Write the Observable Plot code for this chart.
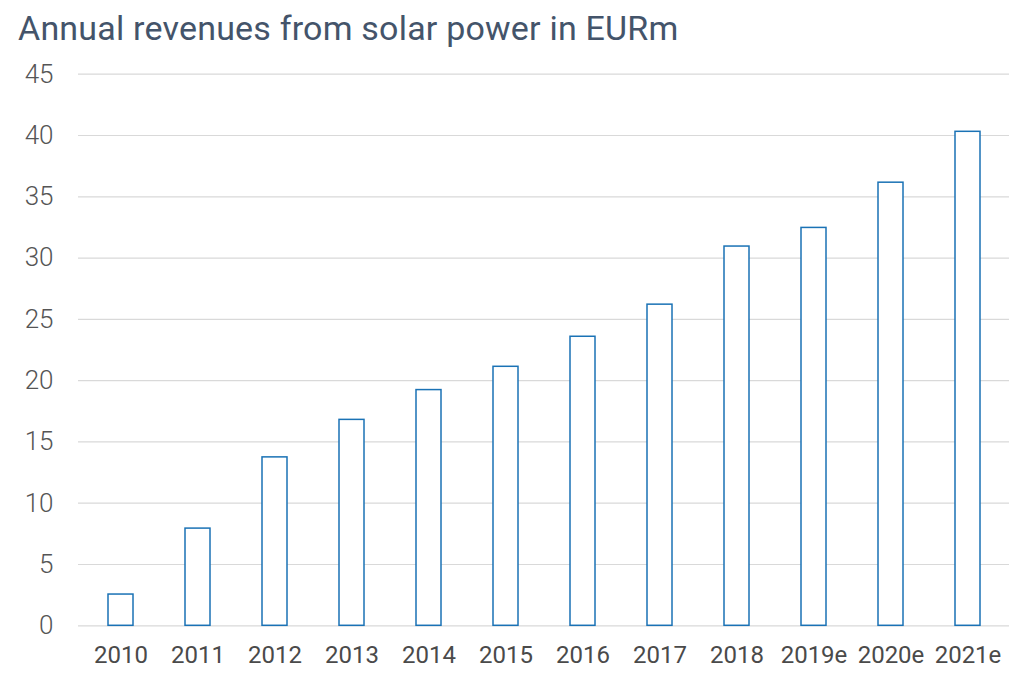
<!DOCTYPE html>
<html>
<head>
<meta charset="utf-8">
<script src="https://cdn.jsdelivr.net/npm/d3@7"></script>
<script src="https://cdn.jsdelivr.net/npm/@observablehq/plot@0.6"></script>
<style>
  html, body { margin: 0; padding: 0; background: #fff; }
  #title { height: 60px; box-sizing: border-box; padding: 8px 0 0 18px; font-family: Roboto, sans-serif; font-size: 34px; color: #44546a; letter-spacing: 0.2px; white-space: nowrap; }
</style>
</head>
<body>
<div id="title">Annual revenues from solar power in EURm</div>
<div id="chart"></div>
<script>
const years = ["2010","2011","2012","2013","2014","2015","2016","2017","2018","2019e","2020e","2021e"];
const revenues = [2.55, 7.93, 13.74, 16.8, 19.23, 21.13, 23.58, 26.2, 30.94, 32.46, 36.15, 40.3];
const yTicks = [0,5,10,15,20,25,30,35,40,45];

const data = years.map((y, i) => ({year: y, value: revenues[i]}));

const plot = Plot.plot({
  width: 1024,
  height: 618,
  marginTop: 13.7,
  marginBottom: 52.7,
  marginLeft: 78,
  marginRight: 15,
  style: {background: "#fff"},
  x: {domain: years, paddingInner: 0.68, paddingOuter: 0.34, label: null, tickSize: 0},
  y: {domain: [0, 45], ticks: yTicks, label: null, tickSize: 0},
  marks: [
    Plot.gridY(yTicks, {stroke: "#d9d9d9", strokeOpacity: 1, strokeWidth: 1.2}),
    Plot.barY(data, {x: "year", y: "value", fill: "#fff", stroke: "#1a72b5", strokeWidth: 1.5}),
    Plot.axisY(yTicks, {tickSize: 0, tickPadding: 25, fontSize: 26, fill: "#555", fontWeight: 300, fontFamily: "Roboto", label: null}),
    Plot.axisX({tickSize: 0, tickPadding: 20, fontSize: 24, fill: "#4a4a4a", fontWeight: 400, fontFamily: "Roboto", letterSpacing: 0.6, label: null})
  ]
});
document.getElementById("chart").appendChild(plot);
</script>
</body>
</html>
